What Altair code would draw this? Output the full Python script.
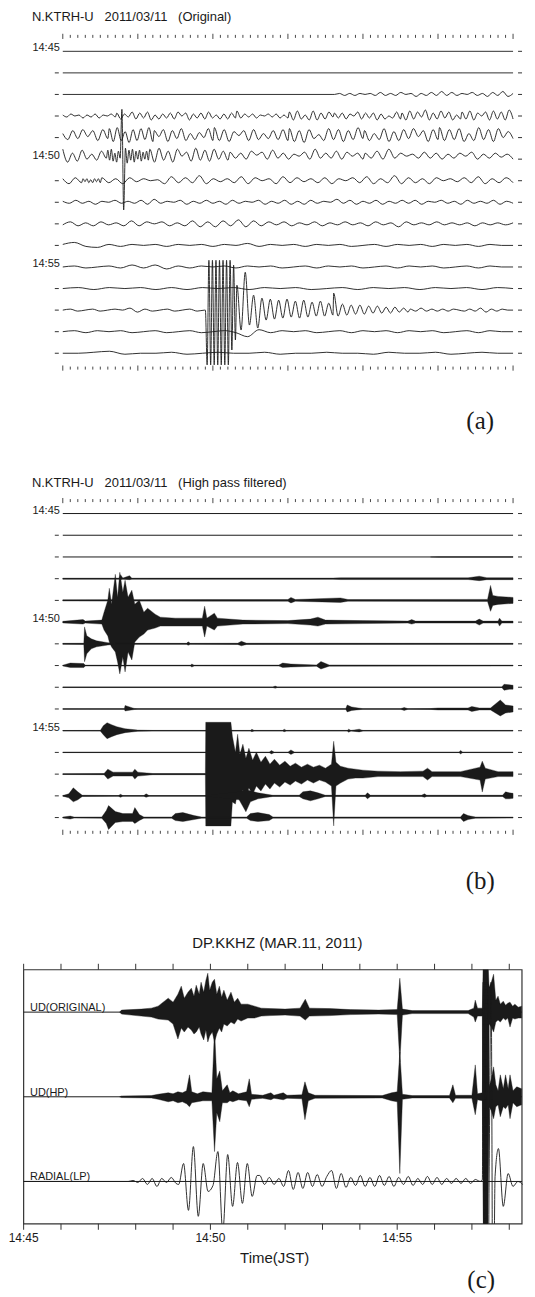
import altair as alt
import pandas as pd

INK = "#1a1a1a"
SANS = "Liberation Sans"
SERIF = "Liberation Serif"

# ---------------- texts ----------------
NB = "\u00a0\u00a0\u00a0"
TITLE_A = "N.KTRH-U" + NB + "2011/03/11" + NB + "(Original)"
TITLE_B = "N.KTRH-U" + NB + "2011/03/11" + NB + "(High pass filtered)"
TITLE_C = "DP.KKHZ (MAR.11, 2011)"
ROW_LABELS = {0: "14:45", 5: "14:50", 10: "14:55"}
TAGS = ["(a)", "(b)", "(c)"]
LANE_LABELS = ["UD(ORIGINAL)", "UD(HP)", "RADIAL(LP)"]
C_TICKS = list(range(14))
C_TICK_LABELS = {0: "14:45", 5: "14:50", 10: "14:55"}
C_XTITLE = "Time(JST)"
N_ROWS = 15
SECONDS = list(range(61))

# ---------------- panel (a): original traces, extrema (px, up +) ----------------
A_R00 = [(0, 60, [0, 0])]
A_R01 = [(0, 60, [0, 0])]
A_R02 = [(0, 36, [0, 0]),
         (36.2, 60, [0, 1, -1, 1, -1, 1, 0, 1, -1, 2, -1, 1, -1, 2, 0, 1, -2, 1, -1, 2, -1, 3, -1, 2,
                     -1, 1, 0, 2, -1, 1, -2, 2, -1, 3, -2, 1])]
A_R03 = [(0, 7, [1, -1, 2, 0, 1, -2, 1, -1, 2, -2, 1, 0, 2, -1]),
         (7.2, 23, [3, -3, 2, -1, 4, -3, 3, -2, 4, -4, 1, -3, 2, -2, 3, -3, 4, 0, 3, -4, 2, -2, 3, -3, 4, -2,
                    1, -3, 2, -3, 3, -2]),
         (23.2, 30, [5, -2, 2, -1, 2, -2, 1, 0, 2, -1, 2, -2, 1, -2]),
         (30.2, 36, [4, -4, 5, -3, 1, -4, 5, -4, 3, -3, 4, -1]),
         (36.2, 45, [3, -2, 3, -3, 2, 0, 4, -3, 3, -2, 3, -4, 2, -3, 0, -2, 4, -3]),
         (45.2, 53, [3, -4, 5, -3, 4, -1, 6, -4, 3, -3, 5, -2, 4, -4, 1, -3]),
         (53.2, 60, [4, -3, 5, -4, 3, 0, 4, -4, 5, -3, 4, -4, 6, -3])]
A_R04 = [(0, 6, [2, -4, 5, -3, 6, -1, 5, -5, 6, -3]),
         (6.2, 12, [7, -6, 8, -5, 4, -7, 6, -5, 7, -4, 8, -6]),
         (12.2, 20, [5, -1, 6, -6, 5, -3, 7, -5, 2, -4, 3, -2, 7, -5]),
         (20.2, 30, [8, -5, 6, -6, 4, 0, 5, -5, 6, -4, 2, -3, 5, -4, 6, -5]),
         (30.2, 40, [7, -6, 5, -7, 6, -3, 1, -5, 7, -4, 6, -6, 5, -4, 8, -3]),
         (40.2, 50, [5, -5, 2, -4, 7, -6, 4, -5, 6, -3, 7, -1, 5, -6, 6, -4]),
         (50.2, 60, [8, -5, 6, -4, 7, -6, 2, -5, 8, -4, 6, -6, 7, -2, 4, -3])]
A_R05 = [(0, 5.8, [7, -6, 3, -5, 6, -3, 2, -4, 5, -2]),
         (6.0, 11.4, [6, -4, 7, -5, 3, -6, 5, -2, 47, -54, 8, -7, 6, -4, 7, -6, 5, -3, 6, -5, 4, -3, 5, -4]),
         (11.6, 22, [7, -6, 8, -4, 5, -6, 7, 0, 4, -5, 8, -4, 6, -5, 7, -3, 5, -4]),
         (22.3, 40, [4, -2, 3, -3, 5, 1, 4, -3, 6, -2, 3, -3, 2, 0, 4, -3, 7, -2, 3, -2, 5, -3, 4, 0, 3, -3]),
         (40.3, 60, [3, -2, 5, -3, 7, -2, 3, 0, 2, -2, 4, -2, 3, -3, 2, -2, 3, 0, 4, -3, 2, -2, 3, -1, 2, -3])]
A_R06 = [(0, 2.5, [2, -3, 3, -2]),
         (2.7, 5, [2, -1, 2, -2, 1, -2, 2, -1, 2, -2]),
         (5.2, 60, [3, -2, 2, -3, 3, -1, 2, 0, 1, -3, 4, -2, 3, -2, 5, -3, 2, -1, 2, -2, 4, -3, 3, 0, 2, -3,
                    4, -2, 3, -1, 2, -2, 3, -3, 2, 0, 3, -2, 4, -3, 2, -2, 5, -3, 3, -2, 2, -3, 3, 0, 2, -1,
                    3, -2, 4, -3, 2, -2, 3, -2])]
A_R07 = [(0, 60, [1, -1, 2, -1, 1, -2, 1, 0, 2, -1, 1, -1, 2, -2, 3, -1, 1, 0, 2, -2, 1, -1, 2, -1, 1, -2,
                  2, -1, 1, 0, 2, -2, 1, -1, 2, -2, 1, -2, 2, -1, 1, 0, 3, -1, 2, -2, 1, -1, 2, -2, 1, -1,
                  2, -1, 2, -2, 1, 0, 2, -1, 1, -2, 2, -1, 1, -1, 2, -2, 1, -1])]
A_R08 = [(0, 60, [-1, 2, -2, 1, -2, 2, -1, 1, -2, 3, -2, 2, 0, 2, -2, 1, -2, 3, -3, 2, -3, 3, -2, 4, -3, 3,
                  -2, 2, -1, 2, -2, 1, -1, 2, -2, 1, -1, 2, -1, 1, -2, 2, -1, 1, -3, 2, -1, 1, -1, 2, -1, 1,
                  -1, 1, -2, 1, -1, 1, -1, 1])]
A_R09 = [(0, 60, [1, 3, -1, -2, 1, -1, 1, 0, 1, -1, 1, 0, 1, -1, 1, 0, 2, -1, 1, 0, 1, -1, 1, 0, 1, -1, 0,
                  1, -1, 1, 0, 1, -1, 1, 0, 1, -1, 1, 0, 0])]
A_R10 = [(0, 60, [0, 1, -1, 0, 1, -1, 2, -1, 2, -2, 1, -1, 1, 0, 1, -1, 1, 0, 1, -1, 0, 1, -1, 1, 0, 1,
                  -1, 0, 1, -1, 1, 0, 1, -1, 0, 1, -1, 1, 0, 0])]
A_R11 = [(0, 60, [0, 1, -1, 1, 0, 1, -1, 1, -1, 1, 0, 1, -1, 1, 0, 1, -1, 0, 1, -1, 1, 0, 1, -1, 1, 0, 1,
                  -1, 1, 0])]
A_R12 = [(0, 18.9, [0, 1, -1, 0, 1, -1, 0, 1, 0, 2, -2, 1, -1, 0, 1, -1, 0, 1, -1, 0]),
         (19.0, 23, [0, -55, 50, -55, 50, -55, 50, -55, 50, -55, 50, -55, 50, -55, 50, -40, 45, -30]),
         (23.2, 36, [25, -20, 38, -15, 15, -18, 12, -10, 11, -9, 10, -8, 11, -7, 9, -8, 10, -7, 8, -6, 9, -6, 7, -5]),
         (36.1, 46, [17, -6, 6, -5, 5, -4, 5, -4, 4, -3, 4, -3, 3, -3, 3, -2, 2, -2]),
         (46.3, 60, [1, -1, 2, -1, 1, -1, 1, -1, 1, 0, -1, 1, -1, 2, -2, 1, -1, 1, 0, 0])]
A_R13 = [(0, 60, [0, 1, -1, 1, 0, 1, -1, 0, 1, -1, 0, 1, -1, 0, 1, -1, -5, 2, -1, 1, 0, 1, -1, 0, 1, -1, 1,
                  0, 1, -1, 1, 0, 1, -1, 0, 1, -1, 1, 0, 0])]
A_R14 = [(0, 60, [0, 0, 1, 2, -1, 0, 0, 1, -1, 0, 1, 0, 0, 1, -1, 0, 0, 1, 0, 0, -1, 1, 0, 0, 1, -1, 0, 1,
                  0, 0])]
A_ROWS = [A_R00, A_R01, A_R02, A_R03, A_R04, A_R05, A_R06, A_R07, A_R08, A_R09, A_R10, A_R11, A_R12, A_R13, A_R14]
A_SHIFT = {4: 2, 5: 3}

# ---------------- panel (b): high-pass envelopes (t s, up px, down px) ----------------
B_R02 = [(49, 0, 0), (50, 0.3, 0.3), (60, 0.3, 0.3)]
B_R03 = [(0, 0.5, 0.5), (7.5, 0.5, 0.5), (7.7, 4, 1), (8, 0.6, 0.6), (8.9, 3, 1), (9.2, 0.5, 0.5), (36, 0.6, 0.6),
         (37, 0.9, 0.9), (54, 0.9, 0.9), (55.5, 2.5, 2), (56.5, 1, 1), (60, 1, 1)]
B_R04 = [(0, 0.6, 0.6), (20, 0.8, 0.8), (30, 0.9, 0.9), (30.4, 3, 2.5), (31, 0.9, 0.9), (37, 2.5, 2), (38, 0.9, 0.9),
         (56.6, 1, 1), (57, 15, 11), (57.3, 5, 5), (58, 4, 4), (60, 3, 3)]
B_R05 = [(0, 0.8, 0.8), (2.7, 2.5, 2), (3, 1, 1), (5.2, 2, 2), (5.5, 10, 8), (6.0, 22, 14), (6.2, 34, 20),
         (6.5, 18, 25), (7.0, 48, 30), (7.3, 25, 40), (7.6, 50, 52), (8.0, 30, 35), (8.3, 42, 50), (8.7, 25, 30),
         (9.2, 32, 38), (9.6, 18, 20), (10.2, 22, 15), (10.8, 10, 12), (11.3, 14, 8), (12.3, 8, 6), (13, 5, 4),
         (15, 4, 4), (18.6, 4, 4), (18.9, 16, 15), (19.2, 4, 4), (20.2, 9, 8), (20.6, 4, 4), (24, 2, 2),
         (30, 1.5, 1.5), (33, 3, 3), (34, 5, 4), (35, 2, 2), (40, 1.5, 1.5), (46, 1, 1), (46.5, 2.5, 2), (47, 1, 1),
         (55, 1, 1), (55.5, 3, 3), (56, 1, 1), (58, 1, 1), (58.2, 4, 4), (58.5, 1, 1), (60, 1, 1)]
B_R06 = [(0, 0.5, 0.5), (2.8, 0.6, 0.6), (2.9, 17, 18), (3.2, 8, 10), (3.8, 5, 5), (4.5, 3, 3), (6, 1.2, 1.2),
         (7, 0.5, 0.5), (16.5, 0.5, 0.5), (16.7, 2, 1.5), (17, 0.5, 0.5), (23.3, 0.6, 0.6), (23.8, 2.5, 2),
         (24.5, 0.6, 0.6), (60, 0.5, 0.5)]
B_R07 = [(0, 0.4, 0.4), (1, 2.5, 2), (2.8, 2, 2), (3, 0.4, 0.4), (17, 0.4, 0.4), (17.2, 1.5, 1.5), (17.5, 0.4, 0.4),
         (28.8, 0.5, 0.5), (29.3, 2.5, 2), (30.4, 1.5, 1.5), (33.8, 0.6, 0.6), (34.4, 4, 3.5), (35.5, 0.6, 0.6),
         (60, 0.4, 0.4)]
B_R08 = [(0, 0.3, 0.3), (28, 0.3, 0.3), (28.3, 1.2, 1), (28.6, 0.3, 0.3), (58.5, 0.3, 0.3), (58.8, 3, 3),
         (59.5, 2.5, 2), (60, 2, 2)]
B_R09 = [(0, 0.2, 0.2), (8.2, 0.3, 0.3), (8.3, 3.5, 2), (9.5, 0.6, 0.6), (10, 0.2, 0.2), (37.7, 0.2, 0.2), (37.9, 4, 3),
         (38.5, 2, 1.5), (40, 0.3, 0.3), (45, 0.3, 0.3), (45.5, 1.5, 1.5), (46, 0.3, 0.3), (49, 0.4, 0.4),
         (50, 1, 1), (54, 1, 1), (54.5, 2.5, 2.5), (55.5, 1, 1), (57, 1, 1), (58.3, 9, 7),
         (59, 4, 4), (60, 3, 3)]
B_R10 = [(0, 0.2, 0.2), (5, 0.3, 0.3), (5.4, 5, 4), (5.9, 8, 8), (6.5, 6, 6), (7.2, 4, 4), (8.3, 2, 2), (10, 0.6, 0.6),
         (12, 0.3, 0.3), (25, 0.3, 0.3), (25.2, 1.5, 1), (25.5, 0.3, 0.3), (29.3, 0.3, 0.3), (29.5, 1.5, 1),
         (29.8, 0.3, 0.3), (37.9, 0.3, 0.3), (38.1, 1.5, 1.5), (38.4, 0.3, 0.3), (39.5, 1.5, 1.2), (40, 0.3, 0.3),
         (60, 0.3, 0.3)]
B_R11 = [(0, 0.2, 0.2), (27.5, 0.2, 0.2), (27.8, 1.8, 1.5), (28.2, 0.2, 0.2), (30, 0.2, 0.2), (30.4, 2.5, 2),
         (30.9, 0.2, 0.2), (52.8, 0.2, 0.2), (53, 2, 1.5), (53.3, 0.2, 0.2), (60, 0.2, 0.2)]
B_R12 = [(0, 0.4, 0.4), (5.5, 0.6, 0.6), (6, 5, 5), (6.7, 2, 2), (9.3, 2, 2), (9.6, 5, 5), (10, 2, 2), (12, 0.6, 0.6),
         (19, 0.6, 0.6), (19.05, 52, 52), (22.4, 52, 52), (22.6, 38, 28), (23, 22, 30), (23.3, 40, 18), (23.6, 20, 26),
         (24, 30, 16), (24.4, 16, 24), (24.8, 26, 14), (25.3, 14, 20), (25.8, 22, 12), (26.4, 12, 17), (27, 18, 10),
         (27.6, 10, 15), (28.2, 15, 9), (28.9, 9, 13), (29.6, 13, 8), (30.3, 8, 11), (31, 11, 7), (31.8, 7, 10),
         (32.6, 10, 6), (33.4, 7, 9), (34.2, 9, 6), (35, 6, 8), (35.8, 10, 12), (36.1, 33, 52),
         (36.4, 12, 12), (37, 8, 9), (38, 6, 5), (39, 5, 4), (40, 4, 4), (42, 3, 2.5), (45, 2.5, 2.5), (48, 3, 2.5),
         (48.6, 6, 6), (49.2, 2.5, 2.5), (53, 2.5, 2.5), (55.6, 7, 6), (55.9, 13, 18), (56.3, 6, 5), (58, 2.5, 2.5),
         (60, 2.5, 2.5)]
B_R13 = [(0, 0.3, 0.3), (0.8, 2, 2), (1.4, 8, 6), (2, 4, 4), (2.6, 0.6, 0.6), (7.4, 0.3, 0.3), (7.7, 1.5, 1.5),
         (8, 0.3, 0.3), (10.8, 0.3, 0.3), (11.1, 2, 1.5), (11.5, 0.3, 0.3), (19, 0.3, 0.3), (23.5, 4, 4),
         (24.4, 6, 16), (25, 5, 6), (26, 3, 3), (28, 0.6, 0.6), (31.5, 0.6, 0.6), (32, 4, 3), (33, 5, 5), (34, 3, 3),
         (35, 0.6, 0.6), (40.3, 0.6, 0.6), (40.6, 3, 3), (41, 0.6, 0.6), (47.8, 0.6, 0.6), (48.2, 2, 1.5),
         (48.5, 0.6, 0.6), (58.6, 0.6, 0.6), (59, 4, 3), (59.5, 3, 3), (60, 2.5, 2.5)]
B_R14 = [(0, 0.5, 0.5), (1, 1.5, 1.5), (1.5, 0.5, 0.5), (5.2, 0.6, 0.6), (5.8, 7, 6), (6.1, 12, 12), (7, 6, 5),
         (8, 4, 4), (9.3, 4, 4), (9.6, 10, 6), (10.2, 3, 3), (10.8, 0.6, 0.6), (14.5, 0.6, 0.6), (15, 4, 3),
         (16, 5, 4), (17.5, 2, 2), (18.5, 0.6, 0.6), (24.5, 0.6, 0.6), (25, 4, 3), (26, 5, 4), (27.5, 3, 3),
         (28, 0.6, 0.6), (53, 0.6, 0.6), (53.4, 4, 4), (54, 2, 2), (55, 0.6, 0.6), (60, 0.5, 0.5)]
B_ROWS = {2: B_R02, 3: B_R03, 4: B_R04, 5: B_R05, 6: B_R06, 7: B_R07, 8: B_R08, 9: B_R09, 10: B_R10,
          11: B_R11, 12: B_R12, 13: B_R13, 14: B_R14}

# ---------------- panel (c): DP.KKHZ (t in minutes after 14:45) ----------------
C_ORIG = [(2.57, 0, 0), (2.62, 2, 2), (3.15, 3, 4), (3.42, 4, 5), (3.6, 6, 7), (3.87, 14, 8), (4.0, 10, 12),
          (4.13, 18, 27), (4.22, 26, 16), (4.3, 14, 20), (4.4, 20, 15), (4.49, 24, 18), (4.56, 16, 22),
          (4.62, 27, 20), (4.7, 18, 15), (4.75, 30, 22), (4.82, 20, 28), (4.88, 32, 18), (4.93, 39, 30),
          (4.98, 22, 24), (5.05, 30, 20), (5.11, 33, 30), (5.17, 18, 22), (5.24, 26, 16), (5.3, 15, 20),
          (5.36, 22, 12), (5.45, 12, 14), (5.55, 20, 10), (5.64, 10, 12), (5.73, 14, 7), (5.82, 8, 9), (6.0, 8, 6),
          (6.18, 6, 6), (6.36, 4, 4), (6.6, 3.5, 3.5), (7.0, 3, 3), (7.4, 4, 4), (7.54, 13, 8), (7.65, 4, 4),
          (8.2, 3.5, 3.5), (8.75, 2.5, 2.5), (9.5, 2, 2), (10.0, 2.5, 2.5), (10.07, 34, 50), (10.14, 3, 3),
          (10.4, 1.5, 1.5), (11.9, 1.5, 1.5), (12.05, 4, 5), (12.09, 12, 10), (12.15, 4, 4), (12.28, 4, 4),
          (12.31, 60, 220), (12.42, 60, 220), (12.46, 25, 12), (12.52, 30, 15), (12.58, 38, 20), (12.64, 12, 10),
          (12.7, 16, 8), (12.76, 8, 10), (12.84, 11, 6), (12.9, 7, 8), (12.96, 9, 6), (13.02, 10, 15),
          (13.09, 6, 6), (13.15, 8, 7), (13.24, 5, 6), (13.33, 6, 6)]
C_HP = [(2.57, 0, 0), (2.62, 0.8, 0.8), (3.42, 1.2, 1.2), (3.6, 2.5, 2.5), (3.87, 4, 5), (4.0, 3, 4), (4.13, 5, 6),
        (4.25, 4, 5), (4.36, 6, 7), (4.44, 22, 10), (4.5, 5, 6), (4.65, 3, 5), (4.8, 5, 4), (5.04, 4, 4),
        (5.11, 68, 55), (5.17, 18, 16), (5.25, 26, 25), (5.32, 6, 6), (5.45, 12, 6), (5.52, 4, 4), (5.6, 6, 5),
        (5.75, 3, 3), (5.97, 5, 4), (6.04, 18, 10), (6.1, 2.5, 2.5), (6.4, 1.5, 1.5), (6.62, 4, 3), (6.7, 1.5, 1.5),
        (6.95, 4, 3), (7.05, 1.5, 1.5), (7.45, 2, 2), (7.53, 15, 23), (7.62, 4, 4), (7.8, 1.5, 1.5),
        (9.6, 1.2, 1.2), (9.85, 4, 4), (10.0, 5, 5), (10.07, 45, 77), (10.14, 2.5, 2.5), (10.4, 1.2, 1.2),
        (11.4, 1.2, 1.2), (11.49, 12, 6), (11.56, 1.5, 1.5), (12.0, 1.5, 1.5), (12.09, 32, 18), (12.15, 3, 3),
        (12.28, 4, 4), (12.31, 140, 140), (12.42, 140, 140), (12.46, 10, 10), (12.52, 18, 14), (12.58, 30, 22),
        (12.64, 12, 10), (12.7, 6, 8), (12.76, 22, 20), (12.84, 8, 10), (12.9, 22, 12), (12.97, 8, 8),
        (13.02, 22, 22), (13.1, 6, 6), (13.2, 10, 10), (13.33, 8, 8)]
C_LP = [(0, 2.78, [0, 0]),
        (2.8, 4.08, [0, 1, -1, 3, -3, 3, -5, 3, -1, 4, -2]),
        (4.15, 6.25, [-3, 18, -29, 35, -35, 18, -10, -4, 30, -50, 27, -25, 19, -22, 18, -15, 6]),
        (6.32, 12.22, [6, -3, 4, -3, 3, -5, 11, -8, 9, -7, 9, -5, 7, -5, 5, 11, -7, 8, -6, 4, -4, 6, -5, 4, -5,
                       6, -4, 5, -5, 4, -3, 5, -4, 3, -3, 5, -3, 4, -3, 3, -2, 3, -2, 3, -2, 2, 0]),
        (12.28, 12.42, [2, 200, -200, 200, -200, 200, -200]),
        (12.46, 12.62, [0, 200, -200, 5]),
        (12.71, 13.36, [33, -25, 8, -5, 0, -3])]

# ---------------- layout ----------------
W = 519
H_A, H_B, H_C = 440, 523, 255
SP_A, SP_B = 21.65, 21.8
ROW0_A, ROW0_B = 41, 65
PXS = 452 / 60.0
T0PX = 53
XD_AB = [-T0PX / PXS, (W - T0PX) / PXS]
LANE_PX = 85.0
C0PX = 13.7
PXM = 37.5
XD_C = [-C0PX / PXM, (W - C0PX) / PXM]
C_END = 13.34


def px2t(px):
    return (px - T0PX) / PXS


def line_points(segs, row, sp, off=0.0):
    out, last = [], None
    for t0, t1, vals in segs:
        n = len(vals)
        for i, v in enumerate(vals):
            t = t0 + (t1 - t0) * i / (n - 1)
            if last is not None and t <= last:
                t = last + 0.02
            out.append({"row": row, "t": t, "y": -row + (v + off) / sp})
            last = t
    return out


def seismo_panel(H, sp, row0, title, tag, title_px, tick_top_px, tick_bot_px, tag_px, lines=None, areas=None):
    ydom = [-(H - row0) / sp, row0 / sp]
    X = lambda f: alt.X(f + ":Q", scale=alt.Scale(domain=XD_AB, nice=False, zero=False), axis=None)
    Y = lambda f: alt.Y(f + ":Q", scale=alt.Scale(domain=ydom, nice=False, zero=False), axis=None)
    yrow = lambda px: -(px - row0) / sp
    layers = []

    # ticks
    tk = []
    for yc_px in (tick_top_px, tick_bot_px):
        yc = yrow(yc_px)
        for s in SECONDS:
            h = 2.6 if s % 10 == 0 else 1.5
            tk.append({"t": s, "y": yc + h / sp, "y2": yc - h / sp})
    layers.append(alt.Chart(pd.DataFrame(tk)).mark_rule(color=INK, strokeWidth=0.8)
                  .encode(x=X("t"), y=Y("y"), y2="y2"))

    # dashes
    dl = []
    for r in range(N_ROWS):
        dl.append({"t": px2t(510), "t2": px2t(514), "y": -r})
        if r not in ROW_LABELS:
            dl.append({"t": px2t(45), "t2": px2t(49), "y": -r})
    layers.append(alt.Chart(pd.DataFrame(dl)).mark_rule(color=INK, strokeWidth=0.9)
                  .encode(x=X("t"), x2="t2", y=Y("y")))

    if areas is not None:
        base = pd.DataFrame([{"t": 0, "t2": 60, "y": -r} for r in range(N_ROWS)])
        layers.append(alt.Chart(base).mark_rule(color=INK, strokeWidth=1.0)
                      .encode(x=X("t"), x2="t2", y=Y("y")))
        ap = []
        for r, verts in areas.items():
            for t, u, d in verts:
                ap.append({"row": r, "t": t, "y": -r + u / sp, "y2": -r - d / sp})
        layers.append(alt.Chart(pd.DataFrame(ap)).mark_area(color=INK, stroke=INK, strokeWidth=0.35)
                      .encode(x=X("t"), y=Y("y"), y2="y2", detail="row:N"))
    if lines is not None:
        lp = []
        for r, segs in enumerate(lines):
            lp += line_points(segs, r, sp, A_SHIFT.get(r, 0))
        layers.append(alt.Chart(pd.DataFrame(lp)).mark_line(color=INK, strokeWidth=0.9, interpolate="monotone")
                      .encode(x=X("t"), y=Y("y"), detail="row:N"))

    # row labels
    rl = pd.DataFrame([{"t": px2t(50), "y": -r, "text": s} for r, s in ROW_LABELS.items()])
    layers.append(alt.Chart(rl).mark_text(align="right", baseline="alphabetic", font=SANS, fontSize=11, color=INK)
                  .encode(x=X("t"), y=Y("y"), text="text:N"))
    # title
    tt = pd.DataFrame([{"t": px2t(22), "y": yrow(title_px), "text": title}])
    layers.append(alt.Chart(tt).mark_text(align="left", baseline="middle", font=SANS, fontSize=13, color=INK)
                  .encode(x=X("t"), y=Y("y"), text="text:N"))
    # tag
    tg = pd.DataFrame([{"t": px2t(472), "y": yrow(tag_px), "text": tag}])
    layers.append(alt.Chart(tg).mark_text(align="center", baseline="middle", font=SERIF, fontSize=25, color=INK)
                  .encode(x=X("t"), y=Y("y"), text="text:N"))
    return alt.layer(*layers).properties(width=W, height=H)


panel_a = seismo_panel(H_A, SP_A, ROW0_A, TITLE_A, TAGS[0], 7, 26, 359, 412, lines=A_ROWS)
panel_b = seismo_panel(H_B, SP_B, ROW0_B, TITLE_B, TAGS[1], 34, 52, 385, 434, areas=B_ROWS)

# ---------------- panel (c) ----------------
cdom = [-(H_C - 42.5) / LANE_PX, 42.5 / LANE_PX]
XC = lambda f: alt.X(f + ":Q", scale=alt.Scale(domain=XD_C, nice=False, zero=False), axis=None)
YC = lambda f: alt.Y(f + ":Q", scale=alt.Scale(domain=cdom, nice=False, zero=False), axis=None)

frame = alt.Chart(pd.DataFrame([{"t": 0, "t2": C_END, "y": cdom[0], "y2": cdom[1]}])).mark_rect(
    fillOpacity=0, stroke="#333333", strokeWidth=1.2).encode(x=XC("t"), x2="t2", y=YC("y"), y2="y2")

ticks_c = []
for v in C_TICKS:
    ticks_c.append({"t": v, "y": cdom[1], "y2": cdom[1] + 6 / LANE_PX})
    ticks_c.append({"t": v, "y": cdom[0], "y2": cdom[0] - 6 / LANE_PX})
c_ticks = alt.Chart(pd.DataFrame(ticks_c)).mark_rule(color="#333333", strokeWidth=1).encode(
    x=XC("t"), y=YC("y"), y2="y2")

c_tlabels = alt.Chart(pd.DataFrame([{"t": k, "y": cdom[1] - 269 / LANE_PX, "text": s}
                                     for k, s in C_TICK_LABELS.items()])).mark_text(
    align="center", baseline="middle", font=SANS, fontSize=12, color=INK).encode(
    x=XC("t"), y=YC("y"), text="text:N")

c_xtitle = alt.Chart(pd.DataFrame([{"t": C_END / 2 + 0.05, "y": cdom[1] - 289 / LANE_PX, "text": C_XTITLE}])).mark_text(
    align="center", baseline="middle", font=SANS, fontSize=15, color=INK).encode(
    x=XC("t"), y=YC("y"), text="text:N")

lane_base = alt.Chart(pd.DataFrame([{"t": 0, "t2": C_END, "y": -k} for k in range(3)])).mark_rule(
    color=INK, strokeWidth=1).encode(x=XC("t"), x2="t2", y=YC("y"))

cap = []
for k, env in ((0, C_ORIG), (1, C_HP)):
    for t, u, d in env:
        cap.append({"lane": k, "t": t, "y": -k + u / LANE_PX, "y2": -k - d / LANE_PX})
c_areas = alt.Chart(pd.DataFrame(cap)).mark_area(color=INK, stroke=INK, strokeWidth=0.4, clip=True).encode(
    x=XC("t"), y=YC("y"), y2="y2", detail="lane:N")

lp_pts = line_points(C_LP, 2, LANE_PX)
c_lp = alt.Chart(pd.DataFrame(lp_pts)).mark_line(color=INK, strokeWidth=0.9, interpolate="monotone",
                                                 clip=True).encode(x=XC("t"), y=YC("y"))

lane_txt = alt.Chart(pd.DataFrame([{"t": 0.17, "y": -k, "text": s} for k, s in enumerate(LANE_LABELS)])).mark_text(
    align="left", baseline="alphabetic", dy=-1, font=SANS, fontSize=11, color=INK).encode(
    x=XC("t"), y=YC("y"), text="text:N")

c_title = alt.Chart(pd.DataFrame([{"t": C_END / 2 + 0.12, "y": cdom[1] + 27 / LANE_PX, "text": TITLE_C}])).mark_text(
    align="center", baseline="middle", font=SANS, fontSize=15, color=INK).encode(
    x=XC("t"), y=YC("y"), text="text:N")

c_tag = alt.Chart(pd.DataFrame([{"t": (473 - C0PX) / PXM, "y": cdom[1] - 311 / LANE_PX, "text": TAGS[2]}])).mark_text(
    align="center", baseline="middle", font=SERIF, fontSize=25, color=INK).encode(
    x=XC("t"), y=YC("y"), text="text:N")

panel_c = alt.layer(frame, c_ticks, lane_base, c_areas, c_lp, lane_txt, c_title, c_tlabels, c_xtitle,
                    c_tag).properties(width=W, height=H_C)

chart = alt.vconcat(panel_a, panel_b, panel_c, spacing=0, bounds="flush").properties(
    padding=0).configure_view(stroke=None)

chart.save("out.html", embed_options={"renderer": "svg", "actions": False})
